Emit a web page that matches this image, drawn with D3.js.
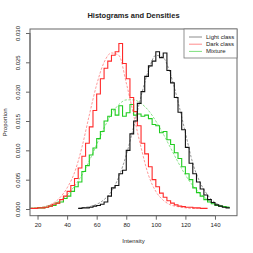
<!DOCTYPE html>
<html>
<head>
<meta charset="utf-8">
<script src="https://cdn.jsdelivr.net/npm/d3@7"></script>
<style>
  body { margin: 0; background: #fff; }
  text { font-family: "Liberation Sans", Arial, sans-serif; fill: #222; }
</style>
</head>
<body>
<div id="chart"></div>
<script>
// bin width 2.5, values are proportions per unit of intensity
var binWidth = 2.5;

var darkStart = 15;
var darkHist = [0.0001, 0.0001, 0.0002, 0.0002, 0.0003, 0.0005, 0.0008, 0.0010, 0.0016, 0.0022,
  0.0030, 0.0040, 0.0052, 0.0070, 0.0090, 0.0112, 0.0140, 0.0168, 0.0196, 0.0222,
  0.0240, 0.0252, 0.0262, 0.0268, 0.0282, 0.0248, 0.0222, 0.0190, 0.0166, 0.0142,
  0.0112, 0.0094, 0.0072, 0.0050, 0.0038, 0.0027, 0.0020, 0.0014, 0.0010, 0.0007,
  0.0005, 0.0004, 0.0003, 0.0003, 0.0002, 0.0002, 0.0001, 0.0001];

var lightStart = 47.5;
var lightHist = [0.0001, 0.0002, 0.0002, 0.0003, 0.0005, 0.0006, 0.0008, 0.0012, 0.0022, 0.0036,
  0.0040, 0.0060, 0.0066, 0.0100, 0.0128, 0.0150, 0.0180, 0.0200, 0.0226, 0.0244,
  0.0252, 0.0268, 0.0258, 0.0266, 0.0236, 0.0215, 0.0190, 0.0165, 0.0135, 0.0105,
  0.0078, 0.0060, 0.0046, 0.0034, 0.0024, 0.0016, 0.0011, 0.0007, 0.0005, 0.0003,
  0.0002];

var mixStart = 15;
var mixHist = [0.0001, 0.0001, 0.0002, 0.0002, 0.0003, 0.0005, 0.0006, 0.0010, 0.0012, 0.0018,
  0.0022, 0.0030, 0.0038, 0.0046, 0.0064, 0.0074, 0.0092, 0.0104, 0.0120, 0.0132,
  0.0150, 0.0158, 0.0170, 0.0160, 0.0176, 0.0158, 0.0164, 0.0178, 0.0160, 0.0162,
  0.0158, 0.0160, 0.0154, 0.0144, 0.0142, 0.0130, 0.0132, 0.0118, 0.0110, 0.0096,
  0.0086, 0.0072, 0.0060, 0.0050, 0.0036, 0.0028, 0.0022, 0.0016, 0.0012, 0.0009,
  0.0006, 0.0005, 0.0004, 0.0003];

// fitted densities
var darkDensX = [15, 20, 25, 30, 35, 40, 45, 50, 55, 60, 65, 70, 75, 80, 85, 90, 95, 100, 105, 110, 115, 120, 125, 130];
var darkDensY = [0.0001, 0.0002, 0.0004, 0.0009, 0.0019, 0.0036, 0.0062, 0.0105, 0.0160, 0.0212, 0.0250, 0.0266, 0.0262, 0.0215, 0.0160, 0.0105, 0.0058, 0.0030, 0.0015, 0.0007, 0.0004, 0.0002, 0.0001, 0.0001];

var lightDensX = [47.5, 50, 55, 60, 65, 70, 75, 80, 85, 90, 95, 100, 105, 110, 115, 120, 125, 130, 135, 140, 145, 150];
var lightDensY = [0.0001, 0.0002, 0.0004, 0.0008, 0.0016, 0.0030, 0.0055, 0.0092, 0.0140, 0.0192, 0.0236, 0.0262, 0.0258, 0.0229, 0.0183, 0.0130, 0.0078, 0.0045, 0.0024, 0.0011, 0.0005, 0.0002];

var mixDensX = [15, 20, 25, 30, 35, 40, 45, 50, 55, 60, 65, 70, 75, 80, 85, 90, 95, 100, 105, 110, 115, 120, 125, 130, 135, 140, 145, 150];
var mixDensY = [0.0001, 0.0002, 0.0004, 0.0008, 0.0014, 0.0024, 0.0039, 0.0058, 0.0082, 0.0110, 0.0138, 0.0162, 0.0178, 0.0186, 0.0186, 0.0180, 0.0168, 0.0150, 0.0128, 0.0104, 0.0080, 0.0058, 0.0040, 0.0026, 0.0016, 0.0009, 0.0005, 0.0003];

var xTicks = [20, 40, 60, 80, 100, 120, 140];
var yTicks = [0, 0.005, 0.010, 0.015, 0.020, 0.025, 0.030];
var legendLabels = ['Light class', 'Dark class', 'Mixture'];

var width = 253, height = 253;
var plot = {left: 30, right: 237, top: 29, bottom: 215.7};

var svg = d3.select('#chart').append('svg')
  .attr('width', width)
  .attr('height', height);

svg.append('rect').attr('width', width).attr('height', height).attr('fill', '#fff');

var x = d3.scaleLinear().domain([14.9, 154.9]).range([plot.left, plot.right]);
var y = d3.scaleLinear().domain([-0.00114, 0.03068]).range([plot.bottom, plot.top]);

function histPoints(start, vals) {
  var pts = vals.map(function(v, i) { return [start + i * binWidth, v]; });
  pts.push([start + vals.length * binWidth, vals[vals.length - 1]]);
  return pts;
}

var stepLine = d3.line()
  .x(function(d) { return x(d[0]); })
  .y(function(d) { return y(d[1]); })
  .curve(d3.curveStepAfter);

var densLine = d3.line()
  .x(function(d) { return x(d[0]); })
  .y(function(d) { return y(d[1]); })
  .curve(d3.curveMonotoneX);

// densities (thin, dashed)
var dens = [
  {xs: mixDensX, ys: mixDensY, col: '#7ee07e'},
  {xs: darkDensX, ys: darkDensY, col: '#ff8c8c'},
  {xs: lightDensX, ys: lightDensY, col: '#8c8c8c'}
];
dens.forEach(function(d) {
  svg.append('path')
    .attr('d', densLine(d.xs.map(function(v, i) { return [v, d.ys[i]]; })))
    .attr('fill', 'none')
    .attr('stroke', d.col)
    .attr('stroke-width', 0.9)
    .attr('stroke-dasharray', '2.5,1.5');
});

// histograms as steps
var hists = [
  {start: mixStart, vals: mixHist, col: '#1fcc1f'},
  {start: darkStart, vals: darkHist, col: '#ff2a2a'},
  {start: lightStart, vals: lightHist, col: '#111'}
];
hists.forEach(function(h) {
  svg.append('path')
    .attr('d', stepLine(histPoints(h.start, h.vals)))
    .attr('fill', 'none')
    .attr('stroke', h.col)
    .attr('stroke-width', 1.1);
});

// frame
svg.append('rect')
  .attr('x', plot.left).attr('y', plot.top)
  .attr('width', plot.right - plot.left).attr('height', plot.bottom - plot.top)
  .attr('fill', 'none').attr('stroke', '#666').attr('stroke-width', 1);

// x axis
var xAxis = svg.append('g')
  .attr('transform', 'translate(0,' + plot.bottom + ')')
  .call(d3.axisBottom(x).tickValues(xTicks).tickSize(4).tickPadding(3));
xAxis.select('.domain')
  .attr('d', 'M' + x(20) + ',0H' + x(140))
  .attr('stroke', '#666');
xAxis.selectAll('.tick line').attr('stroke', '#666');
xAxis.selectAll('text')
  .style('font-family', '"Liberation Sans", Arial, sans-serif')
  .style('font-size', '6px').attr('fill', '#333');

// y axis
var yAxis = svg.append('g')
  .attr('transform', 'translate(' + plot.left + ',0)')
  .call(d3.axisLeft(y).tickValues(yTicks).tickSize(4).tickFormat(d3.format('.3f')));
yAxis.select('.domain')
  .attr('d', 'M0,' + y(0) + 'V' + y(0.03))
  .attr('stroke', '#666');
yAxis.selectAll('.tick line').attr('stroke', '#666');
yAxis.selectAll('text')
  .attr('x', 0).attr('dy', 0)
  .attr('transform', 'translate(-10,0) rotate(-90)')
  .attr('text-anchor', 'middle')
  .style('font-family', '"Liberation Sans", Arial, sans-serif')
  .style('font-size', '6px').attr('fill', '#333');

// titles
svg.append('text')
  .attr('x', (plot.left + plot.right) / 2).attr('y', 18)
  .attr('text-anchor', 'middle')
  .style('font-size', '7.5px').style('font-weight', 'bold')
  .text('Histograms and Densities');

svg.append('text')
  .attr('x', (plot.left + plot.right) / 2).attr('y', 243)
  .attr('text-anchor', 'middle')
  .style('font-size', '6px').attr('fill', '#444')
  .text('Intensity');

svg.append('text')
  .attr('transform', 'translate(7,' + ((plot.top + plot.bottom) / 2) + ') rotate(-90)')
  .attr('text-anchor', 'middle')
  .style('font-size', '6px').attr('fill', '#444')
  .text('Proportion');

// legend
var legendCols = ['#8c8c8c', '#ff8c8c', '#7ee07e'];
var lg = svg.append('g');
lg.append('rect')
  .attr('x', 184).attr('y', plot.top)
  .attr('width', plot.right - 184).attr('height', 29)
  .attr('fill', '#fff').attr('stroke', '#777').attr('stroke-width', 0.8);
legendLabels.forEach(function(lab, i) {
  var ly = 37 + i * 7.2;
  lg.append('line')
    .attr('x1', 189).attr('x2', 202).attr('y1', ly).attr('y2', ly)
    .attr('stroke', legendCols[i]).attr('stroke-width', 1);
  lg.append('text')
    .attr('x', 206).attr('y', ly + 2)
    .style('font-size', '6px').attr('fill', '#333')
    .text(lab);
});
</script>
</body>
</html>
